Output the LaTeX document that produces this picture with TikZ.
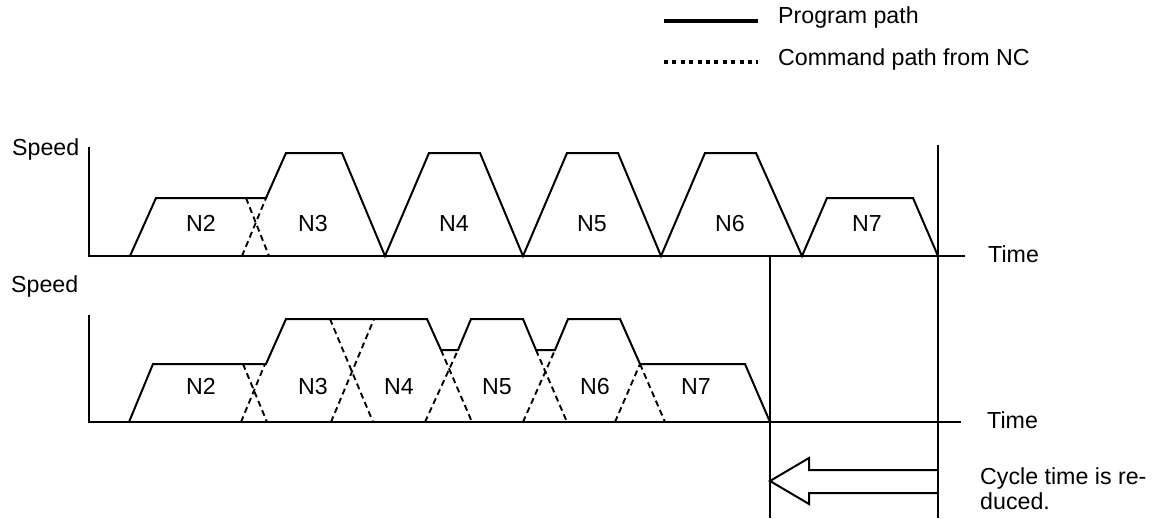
\documentclass[tikz,border=0pt]{standalone}
\usepackage{fontspec}
\setmainfont{Liberation Sans}
\begin{document}
\begin{tikzpicture}[x=1pt,y=-1pt,
  prog/.style={line width=2pt, line join=miter},
  cmd/.style={line width=1.9pt, dash pattern=on 6pt off 4pt},
  axis/.style={line width=2pt},
  lbl/.style={inner sep=0pt, font=\fontsize{23.2}{25}\selectfont},
  blk/.style={lbl, anchor=base}]
\useasboundingbox (0,0) rectangle (1167,519);
% legend
\coordinate (l1a) at (664,21); \coordinate (l1b) at (758,21);
\coordinate (l2a) at (664,62); \coordinate (l2b) at (758,62);
\draw[line width=4pt] (l1a) -- (l1b);
\draw[line width=4pt, dash pattern=on 4pt off 4.4pt] (l2a) -- (l2b);
\node[lbl, anchor=base west] (lgp) at (778,24) {Program path};
\node[lbl, anchor=base west] (lgc) at (778,66) {Command path from NC};
% top axes
\coordinate (tO) at (89,256); \coordinate (tY) at (89,147); \coordinate (tX) at (965,256);
\draw[axis] (tY) -- (tO) -- (tX);
\node[lbl, anchor=base west] (sp1) at (12,155) {Speed};
\node[lbl, anchor=base west] (tm1) at (988,262) {Time};
% bottom axes
\coordinate (bO) at (89,422); \coordinate (bY) at (89,315); \coordinate (bX) at (961,422);
\draw[axis] (bY) -- (bO) -- (bX);
\node[lbl, anchor=base west] (sp2) at (11,292) {Speed};
\node[lbl, anchor=base west] (tm2) at (987,428) {Time};
% vertical markers
\coordinate (v1t) at (938,145); \coordinate (v1b) at (938,518);
\coordinate (v2t) at (770,256); \coordinate (v2b) at (770,518);
\draw[axis] (v1t) -- (v1b);
\draw[axis] (v2t) -- (v2b);
% top program path
\draw[prog] (130,256) -- (156,198) -- (266,198) -- (286,153) -- (342,153) -- (385,256)
  -- (429,153) -- (480,153) -- (523,256) -- (567,153) -- (618,153) -- (661,256)
  -- (705,153) -- (756,153) -- (802,256) -- (827,198) -- (913,198) -- (938,256);
\draw[cmd] (242,256) -- (266,198);
\draw[cmd] (246,198) -- (269,256);
\node[blk] (t2) at (201,231) {N2};
\node[blk] (t3) at (313,231) {N3};
\node[blk] (t4) at (454,231) {N4};
\node[blk] (t5) at (592,231) {N5};
\node[blk] (t6) at (730,231) {N6};
\node[blk] (t7) at (867,231) {N7};
% bottom command path
\draw[prog] (129,422) -- (153,364) -- (266,364) -- (286,319) -- (427,319) -- (441,350)
  -- (458,350) -- (471,319) -- (523,319) -- (536,350) -- (555,350) -- (568,319)
  -- (620,319) -- (640,364) -- (745,364) -- (770,422);
\draw[cmd] (241,422) -- (265,364);
\draw[cmd] (243,364) -- (267,422);
\draw[cmd] (330,319) -- (373,422);
\draw[cmd] (331,422) -- (374,319);
\draw[cmd] (441,350) -- (472,422);
\draw[cmd] (425,422) -- (458,350);
\draw[cmd] (536,350) -- (567,422);
\draw[cmd] (523,422) -- (555,350);
\draw[cmd] (615,422) -- (640,364);
\draw[cmd] (640,364) -- (665,422);
\node[blk] (b2) at (201,394) {N2};
\node[blk] (b3) at (313,394) {N3};
\node[blk] (b4) at (399,394) {N4};
\node[blk] (b5) at (497,394) {N5};
\node[blk] (b6) at (595,394) {N6};
\node[blk] (b7) at (696,394) {N7};
% big hollow arrow
\draw[line width=2pt, line join=miter] (938,470) -- (809,470) -- (809,458) -- (770,481)
  -- (809,504) -- (809,493) -- (938,493);
\node[lbl, anchor=base west] (cy1) at (980,484) {Cycle time is re-};
\node[lbl, anchor=base west] (cy2) at (980,509) {duced.};
\end{tikzpicture}
\end{document}
